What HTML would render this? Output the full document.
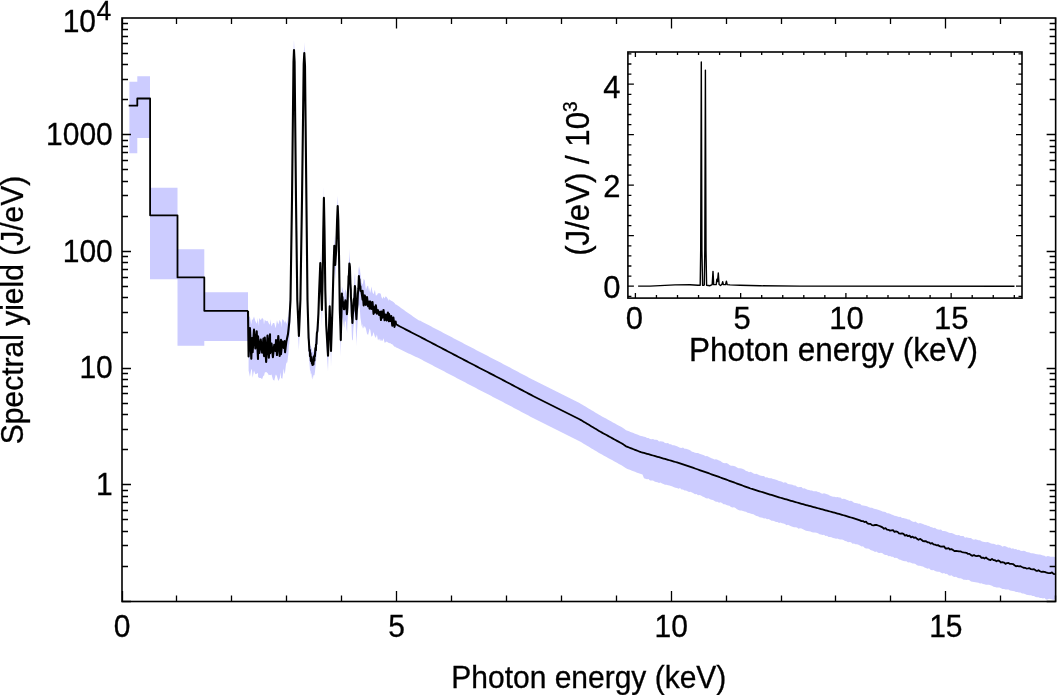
<!DOCTYPE html>
<html><head><meta charset="utf-8"><style>html,body{margin:0;padding:0;background:#fff;overflow:hidden}svg{display:block} text{filter:grayscale(1)}</style></head>
<body><svg width="1057" height="695" viewBox="0 0 1057 695">
<rect width="1057" height="695" fill="#fff"/>
<path d="M129.4,81.7H137.3V153.2H129.4Z M137.3,76.3H150.0V138.1H137.3Z M150.0,187.8H177.5V279.3H150.0Z M177.5,249.3H204.3V345.8H177.5Z M204.3,292.2H248.0V340.9H204.3Z" fill="#ccccff"/>
<path d="M248.6,316.01 L249.95,316.94 L251.3,324.5 L252,318.82 L252.65,320.3 L254,316.54 L255.35,320.93 L256.7,323.74 L258,317.91 L258.05,326.33 L259.4,318.01 L260.75,320.3 L262.1,317.65 L263.45,319.49 L264,324.62 L264.8,319.79 L266.15,321.2 L267.5,320.75 L268.85,323.46 L270,324.87 L270.2,319.34 L271.55,326.55 L272.9,323.05 L274.25,323.07 L275.6,328.18 L276,326.36 L276.95,320.21 L278.3,324.56 L279.65,319.73 L281,322.75 L281,327.73 L282.35,319.07 L283.7,320.19 L284.5,322.94 L285.05,320.2 L286.4,323.96 L286.5,323.58 L286.9,322.2 L287.4,321.3 L287.9,316.21 L288,317.53 L288.4,317.36 L288.9,309.64 L289.3,310.34 L289.4,305.45 L289.9,297.17 L290.4,290.45 L290.5,287.22 L290.9,261.04 L291.4,226.78 L291.9,196.29 L292,190.71 L292.4,151.64 L292.9,105.92 L293.4,60.2 L293.5,52.05 L293.9,40.41 L294,40.63 L294.4,48.08 L294.6,51.12 L294.9,80.09 L295.4,130.8 L295.9,178.26 L296,187.82 L296.4,219.08 L296.9,257.53 L297.3,288.65 L297.4,293.71 L297.9,301.17 L298.4,314.66 L298.9,324.84 L298.9,323.52 L299.4,313.7 L299.9,300.31 L300.4,287.78 L300.4,291.21 L300.9,257.07 L301.4,225.04 L301.9,197.59 L302,190.04 L302.4,156.77 L302.9,116.38 L303.4,76 L303.7,51.9 L303.9,51.48 L304.3,41.93 L304.4,45.63 L304.9,53.85 L305,53.9 L305.4,94.12 L305.9,142.91 L306.4,189.58 L306.4,191.06 L306.9,233.47 L307.4,281.66 L307.5,289.31 L307.9,301.46 L308.4,322.5 L308.6,328.96 L308.9,330.17 L309.4,334.68 L309.9,341.16 L310,343.51 L310.4,346.53 L310.9,345.86 L311.4,348.56 L311.9,348.52 L312.4,352.46 L312.5,352.55 L312.9,351.44 L313.4,352.5 L313.9,348.31 L314.4,350.04 L314.5,349.42 L314.9,343.87 L315.4,338.76 L315.9,335.14 L316,337.4 L316.4,329.46 L316.9,326.54 L317.4,319.58 L317.5,319.66 L317.9,312.4 L318.4,304.13 L318.4,305.13 L318.9,288.47 L319.2,280.94 L319.4,275.82 L319.9,263.26 L320.3,253.01 L320.4,253.81 L320.9,270.7 L321.2,278.9 L321.4,284.25 L321.9,297.89 L321.9,301.35 L322.4,279.63 L322.6,268.21 L322.9,246.88 L323.3,221.01 L323.4,214.24 L323.9,187.48 L323.9,185.9 L324.4,215.35 L324.5,218.07 L324.9,248.55 L325.3,278.25 L325.4,283.08 L325.9,301.66 L326.2,313.66 L326.4,317.76 L326.9,325.42 L327.4,334.2 L327.9,343.07 L328,346.71 L328.4,331.98 L328.9,321.06 L329.4,303.8 L329.7,293.96 L329.9,301.61 L330.4,319.8 L330.9,336.34 L331,341.74 L331.4,329.03 L331.9,314.31 L332.4,299.21 L332.4,299.06 L332.9,279.21 L333.4,263.07 L333.6,253.53 L333.9,247.19 L334.3,235.06 L334.4,236.22 L334.9,249.01 L335.2,255.99 L335.4,251.36 L335.9,245.68 L336.2,240.28 L336.4,234.58 L336.9,214.29 L337.1,209.92 L337.4,202.54 L337.7,195.8 L337.9,199.71 L338.3,209.91 L338.4,216.25 L338.9,239.78 L339.1,248.99 L339.4,269.4 L339.8,300.11 L339.9,303.55 L340.4,318.69 L340.8,327.15 L340.9,324.55 L341.4,304.87 L341.9,285.08 L341.9,286.47 L342.4,287.95 L342.9,290 L343.4,290.88 L343.9,295.95 L344.2,298.61 L344.4,293.55 L344.9,291.02 L345.4,288.46 L345.4,290.12 L345.9,290.15 L346.4,295.56 L346.9,300.12 L347.1,302.75 L347.4,292.89 L347.9,282.16 L348.4,271.26 L348.6,265.56 L348.9,261.52 L349.4,255.71 L349.6,248.85 L349.9,259.56 L350.4,269.31 L350.8,279.43 L350.9,280.01 L351.4,293.86 L351.9,304 L352.3,309.53 L352.4,310.26 L352.9,305.07 L353.4,293.49 L353.9,291.43 L354.4,278.88 L354.9,273.24 L355.1,273.79 L355.4,283.57 L355.9,294.99 L356.3,310.57 L356.4,304.93 L356.9,295.99 L357.4,289.37 L357.9,284.69 L358.4,270.28 L358.9,266.88 L359,267.02 L359.4,270.5 L359.9,265.62 L360.4,278.63 L360.6,271.52 L361.5,282.85 L362.6,284.25 L362.6,285.61 L363.7,278.82 L364.8,280.44 L365.9,290.14 L367,286.57 L368.1,285.49 L369.2,292.25 L369.5,287.38 L370.3,293.14 L371.4,286.47 L372.5,292.23 L373.6,294.16 L374.7,290.37 L375,290.36 L375.8,295.58 L376.9,295.19 L378,293.24 L379.1,293.13 L380.2,293.32 L381,294.43 L381.3,296.58 L382.4,298.97 L383.5,296.51 L384.6,298.58 L385.7,296.18 L386.8,297.37 L387.9,299.1 L389,300.97 L389.1,299.19 L390.1,300.12 L391.2,300.65 L392.3,301.28 L393.4,301.88 L394.5,302.96 L395.6,304.41 L396,304.42 L396.5,304.66 L398,305.74 L399.5,306.82 L401,307.9 L402.5,308.99 L404,310.07 L405.5,311.14 L407,312.19 L408.5,313.24 L410,314.29 L411.5,315.34 L413,316.39 L414.5,317.45 L416,318.5 L417.5,319.55 L419,320.6 L420.5,320.86 L422,321.65 L423.5,322.43 L425,323.22 L426.5,324 L428,324.79 L429.5,325.57 L431,326.36 L432.5,327.14 L434,327.93 L435.5,328.71 L437,329.5 L438.5,330.28 L440,331.07 L441.5,331.85 L443,332.64 L444.5,333.42 L446,334.21 L447.5,334.99 L449,335.78 L450.5,336.56 L452,337.35 L453.5,338.13 L455,338.92 L456.5,339.7 L458,340.49 L459.5,341.27 L461,342.06 L462.5,342.84 L464,343.63 L465.5,344.41 L467,345.2 L468.5,345.98 L470,346.77 L471.5,347.55 L473,348.34 L474.5,349.12 L476,349.91 L477.5,350.69 L479,351.48 L480.5,352.26 L482,353.03 L483.5,353.8 L485,354.57 L486.5,355.35 L488,356.12 L489.5,356.89 L491,357.67 L492.5,358.44 L494,359.21 L495.5,359.98 L497,360.75 L498.5,361.53 L500,362.3 L501.5,363.1 L503,363.89 L504.5,364.69 L506,365.48 L507.5,366.28 L509,367.07 L510.5,367.87 L512,368.66 L513.5,369.45 L515,370.25 L516.5,371.05 L518,371.84 L519.5,372.63 L521,373.43 L522.5,374.22 L524,375.02 L525.5,375.81 L527,376.61 L528.5,377.4 L530,378.2 L531.5,378.96 L533,379.73 L534.5,380.5 L536,381.26 L537.5,382.02 L539,382.79 L540.5,383.55 L542,384.3 L543.5,385.05 L545,385.8 L546.5,386.55 L548,387.3 L549.5,388.05 L551,388.8 L552.5,389.55 L554,390.3 L555.5,391.05 L557,391.8 L558.5,392.55 L560,393.3 L561.5,394.05 L563,394.8 L564.5,395.55 L566,396.3 L567.5,397.05 L569,397.8 L570.5,398.55 L572,399.3 L573.5,400.05 L575,400.8 L576.5,401.55 L578,402.3 L579.5,403.05 L581,403.9 L582.5,404.8 L584,405.7 L585.5,406.6 L587,407.5 L588.5,408.4 L590,409.3 L591.5,410.2 L593,411.1 L594.5,412 L596,412.9 L597.5,413.8 L599,414.7 L600.5,415.57 L602,416.4 L603.5,417.22 L605,418.05 L606.5,418.87 L608,419.69 L609.5,420.52 L611,421.34 L612.5,422.17 L614,422.99 L615.5,423.82 L617,424.64 L618.5,425.46 L620,426.29 L621.5,427.11 L623,427.94 L624.5,429.02 L626,430.14 L627.5,430.72 L629,431.31 L630.5,431.89 L632,432.48 L633.5,433.06 L635,433.65 L636.5,434.23 L638,434.82 L639.5,435.4 L641,435.89 L642.5,436.31 L644,436.74 L645.5,437.06 L647,438.1 L648.5,438.07 L650,439.04 L651.5,439.14 L653,438.88 L654.5,439.8 L656,439.75 L657.5,440.03 L659,441.55 L660.5,441.25 L662,441.51 L663.5,441.84 L665,442.93 L666.5,443.14 L668,443.03 L669.5,444.31 L671,444.2 L672.5,445.26 L674,445.35 L675.5,445.84 L677,446.18 L678.5,446.88 L680,447.69 L681.5,447.97 L683,447.62 L684.5,448.65 L686,448.85 L687.5,449.21 L689,449.84 L690.5,450.42 L692,451.79 L693.5,452.05 L695,452.7 L696.5,453.03 L698,453.09 L699.5,453.7 L701,454.28 L702.5,454.64 L704,455.33 L705.5,456.28 L707,455.98 L708.5,456.75 L710,457.52 L711.5,458.29 L713,458.79 L714.5,459.42 L716,459.21 L717.5,459.83 L719,460.52 L720.5,461.02 L722,462.14 L723.5,462.98 L725,463.16 L726.5,462.93 L728,463.79 L729.5,464.95 L731,465.65 L732.5,465.8 L734,466.06 L735.5,466.62 L737,467.5 L738.5,468.33 L740,468.25 L741.5,468.62 L743,468.95 L744.5,469.66 L746,471.07 L747.5,471.35 L749,472.34 L750.5,471.78 L752,472.6 L753.5,473.58 L755,473.88 L756.5,473.63 L758,474.5 L759.5,475.24 L761,475.76 L762.5,475.94 L764,476.09 L765.5,477.49 L767,477.35 L768.5,478.11 L770,478.36 L771.5,478.27 L773,478.92 L774.5,479.18 L776,479.8 L777.5,480.27 L779,480.99 L780.5,481.33 L782,481.81 L783.5,482.79 L785,482.27 L786.5,482.8 L788,484.08 L789.5,484.18 L791,484.5 L792.5,484.73 L794,485.49 L795.5,485.54 L797,486.73 L798.5,487.13 L800,486.96 L801.5,487.02 L803,488.46 L804.5,488.16 L806,488.99 L807.5,489.64 L809,489.98 L810.5,490.46 L812,490.42 L813.5,491.24 L815,491.19 L816.5,491.36 L818,492.03 L819.5,492.26 L821,493.18 L822.5,493.67 L824,493.24 L825.5,493.68 L827,494.35 L828.5,494.85 L830,495.84 L831.5,496.23 L833,496.67 L834.5,496.79 L836,497.13 L837.5,497.05 L839,497.58 L840.5,497.55 L842,499 L843.5,498.78 L845,499 L846.5,499.73 L848,500.19 L849.5,501.12 L851,500.71 L852.5,501.43 L854,502.68 L855.5,503.08 L857,503.25 L858.5,503.71 L860,503.84 L861.5,505.16 L863,505.56 L864.5,505.8 L866,505.91 L867.5,506.52 L869,507.25 L870.5,507.63 L872,507.73 L873.5,508.57 L875,509.04 L876.5,509.26 L878,509.8 L879.5,510.16 L881,510.68 L882.5,511.46 L884,511.8 L885.5,511.93 L887,513.14 L888.5,513.29 L890,513.72 L891.5,514.51 L893,515.05 L894.5,515.66 L896,516.1 L897.5,516.42 L899,516.97 L900.5,516.79 L902,517.93 L903.5,517.88 L905,518.38 L906.5,518.7 L908,519.52 L909.5,519.56 L911,520.8 L912.5,521.38 L914,521.89 L915.5,521.58 L917,522.67 L918.5,523.38 L920,522.89 L921.5,523.55 L923,524.11 L924.5,524.81 L926,524.94 L927.5,525.85 L929,526.09 L930.5,526.93 L932,527.26 L933.5,527.91 L935,527.86 L936.5,528.88 L938,529.39 L939.5,529.84 L941,529.53 L942.5,531.06 L944,531.08 L945.5,531.19 L947,531.86 L948.5,532.43 L950,532.9 L951.5,533.05 L953,533.54 L954.5,534.13 L956,535.1 L957.5,535.16 L959,535.06 L960.5,535.92 L962,535.98 L963.5,536.11 L965,537.63 L966.5,537.17 L968,537.82 L969.5,537.97 L971,537.96 L972.5,539.34 L974,539.74 L975.5,539.21 L977,539.84 L978.5,540.15 L980,540.27 L981.5,541.22 L983,541.72 L984.5,542.06 L986,542.32 L987.5,541.89 L989,542.5 L990.5,543.21 L992,543.79 L993.5,543.78 L995,544.21 L996.5,545.04 L998,544.42 L999.5,545.08 L1001,545.46 L1002.5,546.67 L1004,546.11 L1005.5,546.26 L1007,547.06 L1008.5,547.7 L1010,547.46 L1011.5,548.64 L1013,548.22 L1014.5,549.18 L1016,548.89 L1017.5,550.11 L1019,549.65 L1020.5,550.64 L1022,551.12 L1023.5,550.78 L1025,550.94 L1026.5,551.88 L1028,552.14 L1029.5,552.47 L1031,553.18 L1032.5,553.16 L1034,553.55 L1035.5,553.9 L1037,554.21 L1038.5,554.51 L1040,554.57 L1041.5,555.09 L1043,555.41 L1044.5,555.74 L1046,556.74 L1047.5,556.07 L1049,556.32 L1050.5,556.84 L1052,556.72 L1053.5,556.76 L1055,557.06 L1055,599.29 L1053.5,599.89 L1052,599.53 L1050.5,599 L1049,598.74 L1047.5,599.4 L1046,599.49 L1044.5,598.09 L1043,598.47 L1041.5,597.89 L1040,597.88 L1038.5,597.31 L1037,597.24 L1035.5,597 L1034,595.92 L1032.5,596.11 L1031,595.15 L1029.5,595.28 L1028,594.9 L1026.5,594.79 L1025,593.9 L1023.5,593.42 L1022,593.52 L1020.5,592.57 L1019,592.6 L1017.5,591.93 L1016,592.03 L1014.5,591.15 L1013,590.9 L1011.5,590.71 L1010,590.53 L1008.5,589.6 L1007,589.51 L1005.5,589.46 L1004,588.95 L1002.5,589.01 L1001,588.17 L999.5,587.38 L998,587.43 L996.5,587.43 L995,587.03 L993.5,586.84 L992,585.67 L990.5,585.2 L989,584.76 L987.5,584.63 L986,584.8 L984.5,584.21 L983,583.88 L981.5,583.32 L980,583.45 L978.5,582.84 L977,582.53 L975.5,582.18 L974,582.12 L972.5,581.65 L971,581.42 L969.5,580.18 L968,579.76 L966.5,579.92 L965,579.72 L963.5,579.77 L962,578.84 L960.5,578.28 L959,578.34 L957.5,577.77 L956,576.82 L954.5,577.02 L953,576.62 L951.5,575.31 L950,575.71 L948.5,575.32 L947,573.86 L945.5,573.94 L944,573.02 L942.5,573.47 L941,572.7 L939.5,571.82 L938,571.79 L936.5,571.52 L935,570.93 L933.5,570.01 L932,570.31 L930.5,569.74 L929,568.22 L927.5,568.82 L926,567.93 L924.5,567.39 L923,566.54 L921.5,566.28 L920,565.79 L918.5,565.76 L917,565.18 L915.5,564.06 L914,563.6 L912.5,563.52 L911,562.84 L909.5,562.18 L908,562.38 L906.5,561.29 L905,561.29 L903.5,560.96 L902,560.38 L900.5,559.7 L899,559.53 L897.5,558.33 L896,557.73 L894.5,557.91 L893,556.78 L891.5,556.67 L890,555.92 L888.5,556.21 L887,555.06 L885.5,555 L884,554.59 L882.5,553.3 L881,552.75 L879.5,553.06 L878,552.78 L876.5,551.42 L875,552.02 L873.5,550.97 L872,550.38 L870.5,550.02 L869,548.72 L867.5,548.43 L866,548.41 L864.5,547.69 L863,546.19 L861.5,546.56 L860,545.56 L858.5,544.79 L857,544.25 L855.5,544.16 L854,543.48 L852.5,543.85 L851,542.22 L849.5,541.9 L848,542.22 L846.5,541.17 L845,540.98 L843.5,540.11 L842,539.59 L840.5,539.48 L839,539.35 L837.5,538.41 L836,538.63 L834.5,538.16 L833,537.99 L831.5,537.26 L830,536.91 L828.5,536.9 L827,535.84 L825.5,536.06 L824,534.63 L822.5,535.12 L821,534.52 L819.5,534.3 L818,533.19 L816.5,532.66 L815,532.54 L813.5,532.49 L812,532.16 L810.5,531.55 L809,531.19 L807.5,530.99 L806,530.84 L804.5,529.89 L803,529.17 L801.5,528.57 L800,528.22 L798.5,528.66 L797,527.47 L795.5,527.23 L794,527.27 L792.5,526.75 L791,526.16 L789.5,525.4 L788,524.64 L786.5,525.31 L785,524.05 L783.5,523.52 L782,523.16 L780.5,522.47 L779,522.99 L777.5,521.9 L776,522.01 L774.5,521.21 L773,520.86 L771.5,520.85 L770,519.85 L768.5,519.09 L767,519.25 L765.5,518.36 L764,518.44 L762.5,517.66 L761,517.5 L759.5,517.15 L758,516.3 L756.5,515.89 L755,515.15 L753.5,514.2 L752,514.12 L750.5,513.39 L749,512.93 L747.5,512.69 L746,511.76 L744.5,511.53 L743,510.89 L741.5,510.5 L740,510.39 L738.5,509.89 L737,509.2 L735.5,508 L734,507.32 L732.5,507.48 L731,506.94 L729.5,505.66 L728,505.53 L726.5,505.09 L725,504.2 L723.5,504.2 L722,502.93 L720.5,502.34 L719,502.74 L717.5,501.69 L716,501.66 L714.5,500.98 L713,499.98 L711.5,499.74 L710,499.34 L708.5,498.22 L707,498.44 L705.5,497.91 L704,497.1 L702.5,496.45 L701,495.62 L699.5,495.02 L698,495.2 L696.5,494.02 L695,494.2 L693.5,493.24 L692,492.49 L690.5,491.66 L689,492.09 L687.5,491.15 L686,490.43 L684.5,490.45 L683,489.59 L681.5,489.44 L680,488.08 L678.5,488.67 L677,488.01 L675.5,487.69 L674,487.35 L672.5,486.49 L671,486.08 L669.5,485.42 L668,485.24 L666.5,484.85 L665,484.75 L663.5,484.11 L662,483.41 L660.5,482.45 L659,483.01 L657.5,482.24 L656,482.04 L654.5,481.55 L653,480.5 L651.5,480.38 L650,480.5 L648.5,479.03 L647,479.32 L645.5,478.69 L644,478.24 L642.5,474.51 L641,474.09 L639.5,473.6 L638,473.02 L636.5,472.43 L635,471.85 L633.5,471.26 L632,470.68 L630.5,470.09 L629,469.51 L627.5,468.92 L626,468.34 L624.5,467.22 L623,466.14 L621.5,465.31 L620,464.49 L618.5,463.66 L617,462.84 L615.5,462.02 L614,461.19 L612.5,460.37 L611,459.54 L609.5,458.72 L608,457.89 L606.5,457.07 L605,456.25 L603.5,455.42 L602,454.6 L600.5,453.77 L599,452.9 L597.5,452 L596,451.1 L594.5,450.2 L593,449.3 L591.5,448.4 L590,447.5 L588.5,446.6 L587,445.7 L585.5,444.8 L584,443.9 L582.5,443 L581,442.1 L579.5,441.25 L578,440.5 L576.5,439.75 L575,439 L573.5,438.25 L572,437.5 L570.5,436.75 L569,436 L567.5,435.25 L566,434.5 L564.5,433.75 L563,433 L561.5,432.25 L560,431.5 L558.5,430.75 L557,430 L555.5,429.25 L554,428.5 L552.5,427.75 L551,427 L549.5,426.25 L548,425.5 L546.5,424.75 L545,424 L543.5,423.25 L542,422.5 L540.5,421.75 L539,420.99 L537.5,420.22 L536,419.46 L534.5,418.69 L533,417.93 L531.5,417.16 L530,416.4 L528.5,415.6 L527,414.81 L525.5,414.01 L524,413.22 L522.5,412.42 L521,411.63 L519.5,410.83 L518,410.04 L516.5,409.25 L515,408.45 L513.5,407.65 L512,406.86 L510.5,406.06 L509,405.27 L507.5,404.48 L506,403.68 L504.5,402.88 L503,402.09 L501.5,401.3 L500,400.5 L498.5,399.73 L497,398.95 L495.5,398.18 L494,397.41 L492.5,396.64 L491,395.87 L489.5,395.09 L488,394.32 L486.5,393.55 L485,392.77 L483.5,392 L482,391.23 L480.5,390.46 L479,389.68 L477.5,388.89 L476,388.11 L474.5,387.32 L473,386.54 L471.5,385.75 L470,384.97 L468.5,384.18 L467,383.4 L465.5,382.61 L464,381.83 L462.5,381.04 L461,380.26 L459.5,379.47 L458,378.69 L456.5,377.9 L455,377.12 L453.5,376.33 L452,375.55 L450.5,374.76 L449,373.98 L447.5,373.19 L446,372.41 L444.5,371.62 L443,370.84 L441.5,370.05 L440,369.27 L438.5,368.48 L437,367.7 L435.5,366.91 L434,366.13 L432.5,365.34 L431,364.56 L429.5,363.77 L428,362.99 L426.5,362.2 L425,361.42 L423.5,360.63 L422,359.85 L420.5,359.06 L419,358.33 L417.5,357.62 L416,356.91 L414.5,356.21 L413,355.5 L411.5,354.79 L410,354.08 L408.5,353.38 L407,352.67 L405.5,351.96 L404,351.23 L402.5,350.5 L401,349.76 L399.5,349.02 L398,348.28 L396.5,347.55 L396,347.7 L395.6,346.85 L394.5,346.75 L393.4,345.39 L392.3,344.2 L391.2,343.96 L390.1,342.97 L389.1,343.17 L389,343.05 L387.9,342.41 L386.8,341.43 L385.7,342.23 L384.6,342.73 L383.5,338.24 L382.4,340.96 L381.3,340.49 L381,338.72 L380.2,341.34 L379.1,338.58 L378,340.4 L376.9,334.42 L375.8,338.03 L375,336.62 L374.7,336.33 L373.6,331.92 L372.5,335.82 L371.4,336.73 L370.3,329.89 L369.5,328.61 L369.2,330.38 L368.1,335.08 L367,333.63 L365.9,328.84 L364.8,325.96 L363.7,328.41 L362.6,323.38 L362.6,328.84 L361.5,324.99 L360.6,318.68 L360.4,317.56 L359.9,309.74 L359.4,304.29 L359,306.78 L358.9,302.79 L358.4,308.55 L357.9,316.23 L357.4,325.96 L356.9,333.1 L356.4,346.28 L356.3,340.8 L355.9,332.67 L355.4,315.52 L355.1,313.01 L354.9,311.38 L354.4,318.32 L353.9,324.38 L353.4,327.9 L352.9,339.79 L352.4,339.96 L352.3,341.37 L351.9,336.93 L351.4,324.36 L350.9,312.86 L350.8,316.61 L350.4,305.22 L349.9,291.56 L349.6,283.19 L349.4,284.52 L348.9,294.02 L348.6,297.46 L348.4,299.94 L347.9,316.48 L347.4,323.05 L347.1,333.29 L346.9,330.91 L346.4,328.84 L345.9,321.46 L345.4,321.71 L345.4,319.85 L344.9,320.95 L344.4,326.17 L344.2,328.09 L343.9,326.34 L343.4,323.18 L342.9,319.6 L342.4,317.52 L341.9,310.24 L341.9,313.34 L341.4,330.94 L340.9,349.92 L340.8,356.39 L340.4,341.64 L339.9,327.6 L339.8,324.68 L339.4,298.41 L339.1,277.34 L338.9,263.52 L338.4,239.82 L338.3,236.79 L337.9,225.45 L337.7,220.34 L337.4,226.75 L337.1,233.8 L336.9,244.14 L336.4,260.63 L336.2,265.14 L335.9,269.27 L335.4,276.64 L335.2,280.37 L334.9,274.2 L334.4,264.08 L334.3,262.52 L333.9,272.01 L333.6,282.47 L333.4,288.93 L332.9,307 L332.4,325.54 L332.4,326.96 L331.9,340.66 L331.4,353.34 L331,367.72 L330.9,361.5 L330.4,346.29 L329.9,327.11 L329.7,320.55 L329.4,332.44 L328.9,343.22 L328.4,358.15 L328,371.89 L327.9,369.52 L327.4,362.54 L326.9,353.31 L326.4,345.53 L326.2,340.1 L325.9,329.49 L325.4,309.11 L325.3,305.83 L324.9,274.04 L324.5,243.55 L324.4,241.84 L323.9,211.91 L323.9,212.56 L323.4,238.95 L323.3,245.99 L322.9,275.55 L322.6,297.38 L322.4,305.3 L321.9,327.42 L321.9,326.18 L321.4,311.71 L321.2,303.78 L320.9,296.05 L320.4,282.82 L320.3,280.3 L319.9,287.72 L319.4,299.76 L319.2,304.66 L318.9,314.36 L318.4,331.34 L318.4,328.19 L317.9,337.57 L317.5,345.03 L317.4,344.64 L316.9,350.13 L316.4,356.95 L316,361.66 L315.9,362.25 L315.4,367.49 L314.9,372.3 L314.5,374.8 L314.4,375.2 L313.9,375.33 L313.4,375.2 L312.9,379.51 L312.5,378.52 L312.4,376.36 L311.9,378.3 L311.4,372.93 L310.9,374.5 L310.4,370.21 L310,370.98 L309.9,369.21 L309.4,362.41 L308.9,356.95 L308.6,353.11 L308.4,345.57 L307.9,330.72 L307.5,314.21 L307.4,307.56 L306.9,261.73 L306.4,213.77 L306.4,213.56 L305.9,168.21 L305.4,121.59 L305,80.54 L304.9,80.13 L304.4,71.15 L304.3,66.95 L303.9,75.21 L303.7,78.12 L303.4,104.03 L302.9,141.6 L302.4,181.61 L302,213.87 L301.9,223.34 L301.4,251.98 L300.9,285.08 L300.4,315.24 L300.4,313.62 L299.9,326.83 L299.4,337.8 L298.9,349.64 L298.9,350.81 L298.4,341.06 L297.9,329.08 L297.4,319.55 L297.3,315.92 L296.9,286.7 L296.4,245.28 L296,217.38 L295.9,206.47 L295.4,156.72 L294.9,106.46 L294.6,77.81 L294.4,71.67 L294,64.79 L293.9,68.77 L293.5,76.25 L293.4,85.99 L292.9,133.74 L292.4,177.81 L292,214.42 L291.9,223 L291.4,257.42 L290.9,288.64 L290.5,316.97 L290.4,319.35 L289.9,328.68 L289.4,341.62 L289.3,343.65 L288.9,345.1 L288.4,353.7 L288,356.71 L287.9,357.52 L287.4,361.87 L286.9,363.19 L286.5,363.62 L286.4,361.07 L285.05,372.2 L284.5,374.35 L283.7,368.5 L282.35,378.73 L281,377.96 L281,372.32 L279.65,378.39 L278.3,380.9 L276.95,376.19 L276,374.53 L275.6,375.11 L274.25,380.87 L272.9,379.55 L271.55,374.56 L270.2,375.31 L270,374.81 L268.85,375.37 L267.5,372.88 L266.15,371.88 L264.8,372.52 L264,376.08 L263.45,375.42 L262.1,379.24 L260.75,378 L259.4,377.93 L258.05,377.02 L258,373.04 L256.7,373.66 L255.35,374.3 L254,370.55 L252.65,377.82 L252,370.42 L251.3,368.84 L249.95,376.69 L248.6,370.5 Z" fill="#ccccff"/>
<path d="M128.7,105.7 L137.3,105.7 L137.3,98.5 L150.1,98.5 L150.1,215.3 L177.5,215.3 L177.5,277.4 L204.3,277.4 L204.3,310.8 L248,310.8M396,324.3 L396.5,324.57 L398,325.37 L399.5,326.17 L401,326.97 L402.5,327.77 L404,328.57 L405.5,329.36 L407,330.13 L408.5,330.9 L410,331.67 L411.5,332.44 L413,333.21 L414.5,333.98 L416,334.75 L417.5,335.52 L419,336.29 L420.5,337.06 L422,337.85 L423.5,338.63 L425,339.42 L426.5,340.2 L428,340.99 L429.5,341.77 L431,342.56 L432.5,343.34 L434,344.13 L435.5,344.91 L437,345.7 L438.5,346.48 L440,347.27 L441.5,348.05 L443,348.84 L444.5,349.62 L446,350.41 L447.5,351.19 L449,351.98 L450.5,352.76 L452,353.55 L453.5,354.33 L455,355.12 L456.5,355.9 L458,356.69 L459.5,357.47 L461,358.26 L462.5,359.04 L464,359.83 L465.5,360.61 L467,361.4 L468.5,362.18 L470,362.97 L471.5,363.75 L473,364.54 L474.5,365.32 L476,366.11 L477.5,366.89 L479,367.68 L480.5,368.46 L482,369.23 L483.5,370 L485,370.77 L486.5,371.55 L488,372.32 L489.5,373.09 L491,373.87 L492.5,374.64 L494,375.41 L495.5,376.18 L497,376.95 L498.5,377.73 L500,378.5 L501.5,379.3 L503,380.09 L504.5,380.88 L506,381.68 L507.5,382.48 L509,383.27 L510.5,384.06 L512,384.86 L513.5,385.65 L515,386.45 L516.5,387.25 L518,388.04 L519.5,388.83 L521,389.63 L522.5,390.42 L524,391.22 L525.5,392.01 L527,392.81 L528.5,393.6 L530,394.4 L531.5,395.16 L533,395.93 L534.5,396.69 L536,397.46 L537.5,398.22 L539,398.99 L540.5,399.75 L542,400.5 L543.5,401.25 L545,402 L546.5,402.75 L548,403.5 L549.5,404.25 L551,405 L552.5,405.75 L554,406.5 L555.5,407.25 L557,408 L558.5,408.75 L560,409.5 L561.5,410.25 L563,411 L564.5,411.75 L566,412.5 L567.5,413.25 L569,414 L570.5,414.75 L572,415.5 L573.5,416.25 L575,417 L576.5,417.75 L578,418.5 L579.5,419.25 L581,420.1 L582.5,421 L584,421.9 L585.5,422.8 L587,423.7 L588.5,424.6 L590,425.5 L591.5,426.4 L593,427.3 L594.5,428.2 L596,429.1 L597.5,430 L599,430.9 L600.5,431.77 L602,432.6 L603.5,433.42 L605,434.25 L606.5,435.07 L608,435.89 L609.5,436.72 L611,437.54 L612.5,438.37 L614,439.19 L615.5,440.02 L617,440.84 L618.5,441.66 L620,442.49 L621.5,443.31 L623,444.14 L624.5,445.22 L626,446.34 L627.5,446.92 L629,447.51 L630.5,448.09 L632,448.68 L633.5,449.26 L635,449.85 L636.5,450.43 L638,451.02 L639.5,451.6 L641,452.09 L642.5,452.51 L644,452.94 L645.5,453.37 L647,453.8 L648.5,454.22 L650,454.65 L651.5,455.08 L653,455.5 L654.5,455.93 L656,456.36 L657.5,456.79 L659,457.21 L660.5,457.64 L662,458.08 L663.5,458.51 L665,458.95 L666.5,459.38 L668,459.82 L669.5,460.25 L671,460.69 L672.5,461.12 L674,461.56 L675.5,462 L677,462.43 L678.5,462.87 L680,463.3 L681.5,463.82 L683,464.34 L684.5,464.85 L686,465.37 L687.5,465.89 L689,466.4 L690.5,466.92 L692,467.44 L693.5,467.96 L695,468.48 L696.5,468.99 L698,469.51 L699.5,470.03 L701,470.56 L702.5,471.09 L704,471.62 L705.5,472.15 L707,472.69 L708.5,473.22 L710,473.75 L711.5,474.28 L713,474.81 L714.5,475.35 L716,475.88 L717.5,476.41 L719,476.94 L720.5,477.48 L722,478.03 L723.5,478.59 L725,479.14 L726.5,479.69 L728,480.24 L729.5,480.79 L731,481.34 L732.5,481.89 L734,482.44 L735.5,482.99 L737,483.54 L738.5,484.09 L740,484.64 L741.5,485.2 L743,485.75 L744.5,486.3 L746,486.85 L747.5,487.4 L749,487.95 L750.5,488.5 L752,488.96 L753.5,489.43 L755,489.89 L756.5,490.35 L758,490.81 L759.5,491.28 L761,491.74 L762.5,492.2 L764,492.66 L765.5,493.13 L767,493.59 L768.5,494.05 L770,494.52 L771.5,494.98 L773,495.44 L774.5,495.9 L776,496.37 L777.5,496.83 L779,497.29 L780.5,497.74 L782,498.18 L783.5,498.61 L785,499.04 L786.5,499.48 L788,499.91 L789.5,500.34 L791,500.77 L792.5,501.21 L794,501.64 L795.5,502.07 L797,502.5 L798.5,502.94 L800,503.37 L801.5,503.79 L803,504.19 L804.5,504.6 L806,505.01 L807.5,505.41 L809,505.82 L810.5,506.22 L812,506.63 L813.5,507.03 L815,507.44 L816.5,507.85 L818,508.25 L819.5,508.66 L821,509.06 L822.5,509.47 L824,509.87 L825.5,510.28 L827,510.68 L828.5,511.09 L830,511.5 L831.5,511.9 L833,512.31 L834.5,512.71 L836,513.12 L837.5,513.52 L839,513.93 L840.5,514.35 L842,514.8 L843.5,515.25 L845,515.7 L846.5,516.15 L848,516.6 L849.5,517.05 L851,517.5 L852.5,517.95 L854,518.4 L855.5,518.85 L857,519.3 L858.5,519.84 L860,520.37 L861.5,521.1 L863,521.15 L864.5,522.01 L866,521.65 L867.5,523.46 L869,523.94 L870.5,523.89 L872,525.09 L873.5,525.34 L875,525 L876.5,524.96 L878,525.48 L879.5,525.99 L881,526.67 L882.5,527.42 L884,528.78 L885.5,528.1 L887,529.7 L888.5,529.8 L890,530.6 L891.5,530.28 L893,530.05 L894.5,531.95 L896,531.47 L897.5,531.77 L899,533.45 L900.5,533.73 L902,533.37 L903.5,533.96 L905,535.66 L906.5,534.94 L908,536.21 L909.5,535.67 L911,537.38 L912.5,536.6 L914,537.79 L915.5,537.39 L917,538.79 L918.5,539.8 L920,538.9 L921.5,539.71 L923,541.06 L924.5,541.25 L926,541.19 L927.5,542.24 L929,542.39 L930.5,543.6 L932,543.05 L933.5,544.35 L935,544.61 L936.5,545.27 L938,545.09 L939.5,546.18 L941,546.61 L942.5,546.52 L944,546.34 L945.5,548.5 L947,548.52 L948.5,548.08 L950,549.49 L951.5,549.15 L953,549.97 L954.5,551.14 L956,550.87 L957.5,551.06 L959,551.46 L960.5,551.41 L962,552.03 L963.5,552.48 L965,552.67 L966.5,552.83 L968,553.92 L969.5,553.82 L971,555.13 L972.5,555.82 L974,555.01 L975.5,555.91 L977,556.15 L978.5,555.74 L980,556.19 L981.5,557.92 L983,557.54 L984.5,558.5 L986,557.53 L987.5,558.84 L989,559.69 L990.5,560.05 L992,558.86 L993.5,560.15 L995,560.24 L996.5,561.3 L998,560.43 L999.5,561.13 L1001,562.48 L1002.5,562.22 L1004,562.55 L1005.5,563.84 L1007,563.04 L1008.5,562.89 L1010,563.88 L1011.5,563.81 L1013,564.03 L1014.5,565.26 L1016,566.31 L1017.5,565.99 L1019,566.47 L1020.5,566.24 L1022,567.04 L1023.5,567.73 L1025,567.79 L1026.5,568.53 L1028,568.43 L1029.5,568.15 L1031,569.2 L1032.5,569.39 L1034,569.16 L1035.5,570.33 L1037,571.04 L1038.5,570.17 L1040,571.26 L1041.5,571.95 L1043,571.71 L1044.5,571.83 L1046,572.37 L1047.5,572.81 L1049,573.21 L1050.5,573.11 L1052,572.43 L1053.5,573.85 L1055,574.17" fill="none" stroke="#000" stroke-width="1.8" stroke-linejoin="round"/>
<path d="M248,310.8 L248.6,356.52 L249.95,328.01 L251.3,358.67 L252,337.94 L252.65,352.15 L254,329.65 L255.35,348.46 L256.7,331.23 L258,359.03 L258.05,336.24 L259.4,352.88 L260.75,339.57 L262.1,352.75 L263.45,338.44 L264,356.09 L264.8,337.55 L266.15,361.96 L267.5,335.57 L268.85,357.69 L270,334.18 L270.2,353.18 L271.55,343.52 L272.9,357.26 L274.25,344.9 L275.6,350.95 L276,340.14 L276.95,355.07 L278.3,335.94 L279.65,355.83 L281,339.71 L281,354.12 L282.35,341.58 L283.7,347.85 L284.5,341.01 L285.05,352.32 L286.4,341.2 L286.5,341 L286.9,339.13 L287.4,336.8 L287.9,334.47 L288,334 L288.4,330.31 L288.9,325.69 L289.3,322 L289.4,320.17 L289.9,311 L290.4,301.83 L290.5,300 L290.9,273.33 L291.4,240 L291.9,206.67 L292,200 L292.4,163.2 L292.9,117.2 L293.4,71.2 L293.5,62 L293.9,52.48 L294,50.1 L294.4,58.03 L294.6,62 L294.9,91.57 L295.4,140.86 L295.9,190.14 L296,200 L296.4,230.77 L296.9,269.23 L297.3,300 L297.4,302.25 L297.9,313.5 L298.4,324.75 L298.9,336 L298.9,336 L299.4,324 L299.9,312 L300.4,300 L300.4,300 L300.9,268.75 L301.4,237.5 L301.9,206.25 L302,200 L302.4,168 L302.9,128 L303.4,88 L303.7,64 L303.9,60.37 L304.3,53.1 L304.4,54.94 L304.9,64.16 L305,66 L305.4,104.29 L305.9,152.14 L306.4,200 L306.4,200 L306.9,245.45 L307.4,290.91 L307.5,300 L307.9,313.82 L308.4,331.09 L308.6,338 L308.9,341.43 L309.4,351.04 L309.9,349.95 L310,356.17 L310.4,352.96 L310.9,360.83 L311.4,357.14 L311.9,363.53 L312.4,359.65 L312.5,364.94 L312.9,359.74 L313.4,364.45 L313.9,356.49 L314.4,360.48 L314.5,355.21 L314.9,356.35 L315.4,347.99 L315.9,350.26 L316,344.76 L316.4,343.87 L316.9,332.99 L317.4,331.07 L317.5,330 L317.9,322.89 L318.4,314 L318.4,314 L318.9,299 L319.2,290 L319.4,285.11 L319.9,272.88 L320.3,263.1 L320.4,266.09 L320.9,281.03 L321.2,290 L321.4,295.71 L321.9,310 L321.9,310 L322.4,288.57 L322.6,280 L322.9,258.57 L323.3,230 L323.4,224.65 L323.9,197.9 L323.9,197.9 L324.4,224.65 L324.5,230 L324.9,260 L325.3,290 L325.4,293.89 L325.9,313.33 L326.2,325 L326.4,328.41 L326.9,336.94 L327.4,345.47 L327.9,353.99 L328,355.7 L328.4,344.1 L328.9,329.6 L329.4,315.1 L329.7,306.4 L329.9,313.26 L330.4,330.42 L330.9,347.57 L331,351 L331.4,339.29 L331.9,324.64 L332.4,310 L332.4,310 L332.9,291.25 L333.4,272.5 L333.6,265 L333.9,256.81 L334.3,245.9 L334.4,248.02 L334.9,258.63 L335.2,265 L335.4,262 L335.9,254.5 L336.2,250 L336.4,243.33 L336.9,226.67 L337.1,220 L337.4,213.05 L337.7,206.1 L337.9,210.73 L338.3,220 L338.4,225 L338.9,250 L339.1,260 L339.4,281.43 L339.8,310 L339.9,312.94 L340.4,325.68 L340.8,340.09 L340.9,333.41 L341.4,316.56 L341.9,293.47 L341.9,296.35 L342.4,297.12 L342.9,304.07 L343.4,302.09 L343.9,309.29 L344.2,306.22 L344.4,309.22 L344.9,302.97 L345.4,302.88 L345.4,300.2 L345.9,306.98 L346.4,305.11 L346.9,314.23 L347.1,312.28 L347.4,307.41 L347.9,292.97 L348.4,283.54 L348.6,275.9 L348.9,275.62 L349.4,263.61 L349.6,264.37 L349.9,266.76 L350.4,282.81 L350.8,289.56 L350.9,296.73 L351.4,303.01 L351.9,316.12 L352.3,320.07 L352.4,322.97 L352.9,313.59 L353.4,310.13 L353.9,299.34 L354.4,297.55 L354.9,285.96 L355.1,287.29 L355.4,292.07 L355.9,311.25 L356.3,317.16 L356.4,319.31 L356.9,309.77 L357.4,304.71 L357.9,293.54 L358.4,288.72 L358.9,276.01 L359,278.81 L359.4,279.27 L359.9,286.14 L360.4,286.24 L360.6,290.84 L361.5,291.64 L362.6,299.59 L362.6,290.84 L363.7,305.47 L364.8,295.43 L365.9,304.85 L367,297.06 L368.1,306.31 L369.2,301.56 L369.5,308.58 L370.3,301.47 L371.4,308.9 L372.5,302.05 L373.6,313.95 L374.7,307.04 L375,312.38 L375.8,305.23 L376.9,313.73 L378,310.15 L379.1,314.94 L380.2,311.78 L381,320.05 L381.3,311.46 L382.4,317.63 L383.5,309.94 L384.6,320.3 L385.7,314.49 L386.8,320.48 L387.9,312.54 L389,321.31 L389.1,314.11 L390.1,320.9 L391.2,315.97 L392.3,325.61 L393.4,317.58 L394.5,326.85 L395.6,321.46 L396,324.3" fill="none" stroke="#000" stroke-width="2.1" stroke-linejoin="round"/>
<path d="M122.5,601.5v-10.5M122.5,18.0v10.5M176.5,601.5v-6M176.5,18.0v6M231.5,601.5v-6M231.5,18.0v6M286.5,601.5v-6M286.5,18.0v6M341.5,601.5v-6M341.5,18.0v6M396.5,601.5v-10.5M396.5,18.0v10.5M451.5,601.5v-6M451.5,18.0v6M506.5,601.5v-6M506.5,18.0v6M561.5,601.5v-6M561.5,18.0v6M616.5,601.5v-6M616.5,18.0v6M671.5,601.5v-10.5M671.5,18.0v10.5M726.5,601.5v-6M726.5,18.0v6M781.5,601.5v-6M781.5,18.0v6M835.5,601.5v-6M835.5,18.0v6M890.5,601.5v-6M890.5,18.0v6M945.5,601.5v-10.5M945.5,18.0v10.5M1000.5,601.5v-6M1000.5,18.0v6M1055.5,601.5v-6M1055.5,18.0v6M122.0,601.5h9M1055.64,601.5h-9M122.0,566.5h6M1055.64,566.5h-6M122.0,545.5h6M1055.64,545.5h-6M122.0,531.5h6M1055.64,531.5h-6M122.0,519.5h6M1055.64,519.5h-6M122.0,510.5h6M1055.64,510.5h-6M122.0,502.5h6M1055.64,502.5h-6M122.0,496.5h6M1055.64,496.5h-6M122.0,490.5h6M1055.64,490.5h-6M122.0,484.5h9M1055.64,484.5h-9M122.0,449.5h6M1055.64,449.5h-6M122.0,429.5h6M1055.64,429.5h-6M122.0,414.5h6M1055.64,414.5h-6M122.0,403.5h6M1055.64,403.5h-6M122.0,393.5h6M1055.64,393.5h-6M122.0,386.5h6M1055.64,386.5h-6M122.0,379.5h6M1055.64,379.5h-6M122.0,373.5h6M1055.64,373.5h-6M122.0,368.5h9M1055.64,368.5h-9M122.0,332.5h6M1055.64,332.5h-6M122.0,312.5h6M1055.64,312.5h-6M122.0,297.5h6M1055.64,297.5h-6M122.0,286.5h6M1055.64,286.5h-6M122.0,277.5h6M1055.64,277.5h-6M122.0,269.5h6M1055.64,269.5h-6M122.0,262.5h6M1055.64,262.5h-6M122.0,256.5h6M1055.64,256.5h-6M122.0,251.5h9M1055.64,251.5h-9M122.0,216.5h6M1055.64,216.5h-6M122.0,195.5h6M1055.64,195.5h-6M122.0,181.5h6M1055.64,181.5h-6M122.0,169.5h6M1055.64,169.5h-6M122.0,160.5h6M1055.64,160.5h-6M122.0,152.5h6M1055.64,152.5h-6M122.0,146.5h6M1055.64,146.5h-6M122.0,140.5h6M1055.64,140.5h-6M122.0,134.5h9M1055.64,134.5h-9M122.0,99.5h6M1055.64,99.5h-6M122.0,79.5h6M1055.64,79.5h-6M122.0,64.5h6M1055.64,64.5h-6M122.0,53.5h6M1055.64,53.5h-6M122.0,43.5h6M1055.64,43.5h-6M122.0,36.5h6M1055.64,36.5h-6M122.0,29.5h6M1055.64,29.5h-6M122.0,23.5h6M1055.64,23.5h-6" stroke="#000" stroke-width="1.3" fill="none"/>
<rect x="122.0" y="18.0" width="933.64" height="583.5" fill="none" stroke="#000" stroke-width="1.6"/>
<g style="font-family:'Liberation Sans',sans-serif" font-size="30" fill="#000" stroke="#000" stroke-width="0.3">
<g transform="translate(112.8,144.8) scale(1,1.03)"><text text-anchor="end">1000</text></g>
<g transform="translate(112.8,261.5) scale(1,1.03)"><text text-anchor="end">100</text></g>
<g transform="translate(112.8,378.2) scale(1,1.03)"><text text-anchor="end">10</text></g>
<g transform="translate(112.8,494.9) scale(1,1.03)"><text text-anchor="end">1</text></g>
<g transform="translate(96,31.6) scale(1,1.03)"><text text-anchor="end">10</text></g>
<g transform="translate(96.6,19.8) scale(1,1.03)"><text text-anchor="start" font-size="26.5">4</text></g>
<g transform="translate(122,637.4) scale(1,1.03)"><text text-anchor="middle">0</text></g>
<g transform="translate(396.6,637.4) scale(1,1.03)"><text text-anchor="middle">5</text></g>
<g transform="translate(671.2,637.4) scale(1,1.03)"><text text-anchor="middle">10</text></g>
<g transform="translate(945.8,637.4) scale(1,1.03)"><text text-anchor="middle">15</text></g>
<g transform="translate(588.8,688.3) scale(1,1.03)"><text text-anchor="middle">Photon energy (keV)</text></g>
<g transform="translate(23,310) rotate(-90) scale(1,1.03)"><text text-anchor="middle">Spectral yield (J/eV)</text></g>
</g>
<rect x="627.9" y="52.0" width="394.1" height="246.1" fill="#fff" stroke="none"/>
<path d="M638.1,286.1 L650,286.1 L660,285.6 L675,284.9 L690,284.8 L698,285.2 L700.2,285.3 L700.7,250 L701.3,61.9 L701.9,250 L702.6,285.2 L703.6,285.4 L704.3,285 L704.8,250 L705.4,70.1 L706,250 L706.6,285.3 L710,285.7 L712.2,284.6 L713,271.4 L713.7,284.6 L716.2,284.6 L716.9,279.1 L717.5,281.5 L718.3,273 L719.1,284.5 L720.5,285.5 L722,284.3 L722.7,281.7 L723.4,284.6 L725.6,284.5 L726.4,281.2 L727.2,284.6 L730,284.9 L740,285.3 L760,285.8 L800,286.1 L1014.5,286.2" fill="none" stroke="#000" stroke-width="1.4" stroke-linejoin="round"/>
<path d="M635.4,298.1v-5M635.4,52.0v5M656.45,298.1v-3M656.45,52.0v3M677.5,298.1v-3M677.5,52.0v3M698.55,298.1v-3M698.55,52.0v3M719.6,298.1v-3M719.6,52.0v3M740.65,298.1v-5M740.65,52.0v5M761.7,298.1v-3M761.7,52.0v3M782.75,298.1v-3M782.75,52.0v3M803.8,298.1v-3M803.8,52.0v3M824.85,298.1v-3M824.85,52.0v3M845.9,298.1v-5M845.9,52.0v5M866.95,298.1v-3M866.95,52.0v3M888,298.1v-3M888,52.0v3M909.05,298.1v-3M909.05,52.0v3M930.1,298.1v-3M930.1,52.0v3M951.15,298.1v-5M951.15,52.0v5M972.2,298.1v-3M972.2,52.0v3M993.25,298.1v-3M993.25,52.0v3M1014.3,298.1v-3M1014.3,52.0v3M627.9,296.3h3.5M1022.0,296.3h-3.5M627.9,286.2h6M1022.0,286.2h-6M627.9,276.1h3.5M1022.0,276.1h-3.5M627.9,266h3.5M1022.0,266h-3.5M627.9,255.9h3.5M1022.0,255.9h-3.5M627.9,245.8h3.5M1022.0,245.8h-3.5M627.9,235.7h6M1022.0,235.7h-6M627.9,225.6h3.5M1022.0,225.6h-3.5M627.9,215.5h3.5M1022.0,215.5h-3.5M627.9,205.4h3.5M1022.0,205.4h-3.5M627.9,195.3h3.5M1022.0,195.3h-3.5M627.9,185.2h6M1022.0,185.2h-6M627.9,175.1h3.5M1022.0,175.1h-3.5M627.9,165h3.5M1022.0,165h-3.5M627.9,154.9h3.5M1022.0,154.9h-3.5M627.9,144.8h3.5M1022.0,144.8h-3.5M627.9,134.7h6M1022.0,134.7h-6M627.9,124.6h3.5M1022.0,124.6h-3.5M627.9,114.5h3.5M1022.0,114.5h-3.5M627.9,104.4h3.5M1022.0,104.4h-3.5M627.9,94.3h3.5M1022.0,94.3h-3.5M627.9,84.2h6M1022.0,84.2h-6M627.9,74.1h3.5M1022.0,74.1h-3.5M627.9,64h3.5M1022.0,64h-3.5M627.9,53.9h3.5M1022.0,53.9h-3.5" stroke="#000" stroke-width="1.3" fill="none"/>
<rect x="627.9" y="52.0" width="394.1" height="246.1" fill="none" stroke="#000" stroke-width="1.6"/>
<g style="font-family:'Liberation Sans',sans-serif" font-size="31" fill="#000" stroke="#000" stroke-width="0.3">
<g transform="translate(620.5,297.5) scale(1,1.04)"><text text-anchor="end">0</text></g>
<g transform="translate(620.5,196.5) scale(1,1.04)"><text text-anchor="end">2</text></g>
<g transform="translate(620.5,97.5) scale(1,1.04)"><text text-anchor="end">4</text></g>
<g transform="translate(634.4,328.7) scale(1,1.04)"><text text-anchor="middle">0</text></g>
<g transform="translate(742.2,328.7) scale(1,1.04)"><text text-anchor="middle">5</text></g>
<g transform="translate(846.5,328.7) scale(1,1.04)"><text text-anchor="middle">10</text></g>
<g transform="translate(951.3,328.7) scale(1,1.04)"><text text-anchor="middle">15</text></g>
<g transform="translate(833.5,360.7) scale(1,1.05)"><text text-anchor="middle" font-size="31.5">Photon energy (keV)</text></g>
<g transform="translate(589.3,178.6) rotate(-90) scale(1,1.05)"><text text-anchor="middle" font-size="31.2">(J/eV) / 10<tspan font-size="19" dy="-11.5">3</tspan></text></g>
</g>
</svg></body></html>
